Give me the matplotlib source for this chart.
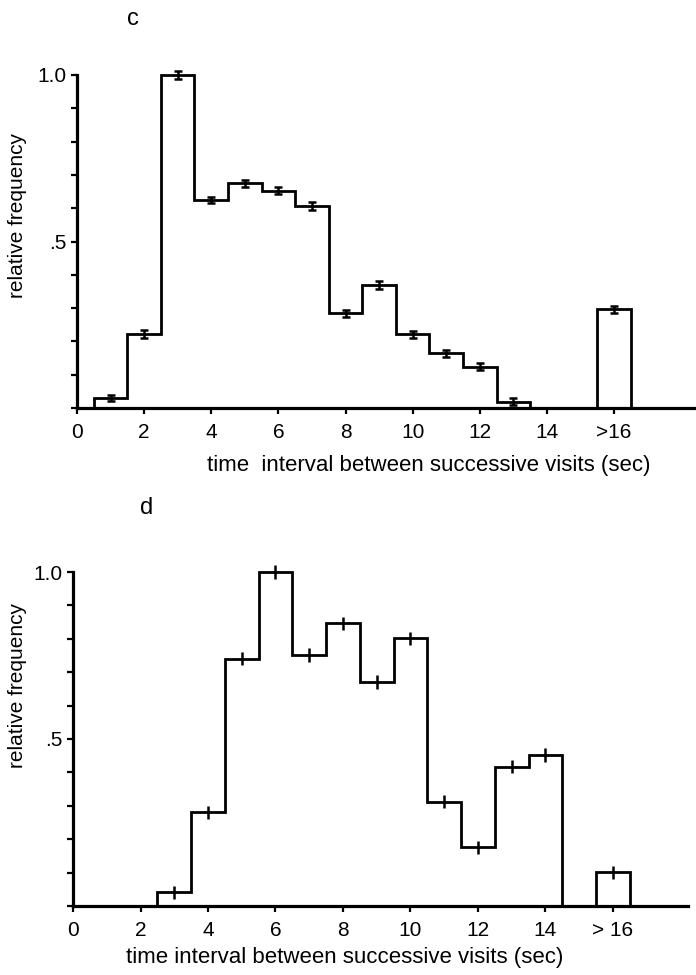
import numpy as np
import matplotlib
matplotlib.use("Agg")
import matplotlib.pyplot as plt
from matplotlib.ticker import MultipleLocator

plt.rcParams['font.family'] = ['Liberation Sans', 'DejaVu Sans']

# Panel c data
c_bins = [1, 2, 3, 4, 5, 6, 7, 8, 9, 10, 11, 12, 13]
c_vals = [0.03, 0.222, 1.0, 0.625, 0.675, 0.653, 0.607, 0.284, 0.369, 0.221, 0.164, 0.124, 0.019]
c_err = [0.01, 0.012, 0.012, 0.01, 0.01, 0.01, 0.012, 0.01, 0.012, 0.01, 0.01, 0.01, 0.01]
c_over_pos = 16
c_over_val = 0.296
c_over_err = 0.01

# Panel d data
d_bins = [3, 4, 5, 6, 7, 8, 9, 10, 11, 12, 13, 14]
d_vals = [0.041, 0.28, 0.741, 1.0, 0.751, 0.846, 0.671, 0.801, 0.312, 0.176, 0.417, 0.452]
d_err = [0.02, 0.02, 0.02, 0.02, 0.02, 0.02, 0.02, 0.02, 0.02, 0.02, 0.02, 0.02]
d_over_pos = 16
d_over_val = 0.101
d_over_err = 0.02

xtick_vals = [0, 2, 4, 6, 8, 10, 12, 14, 16]
c_xticklabels = ['0', '2', '4', '6', '8', '10', '12', '14', '>16']
d_xticklabels = ['0', '2', '4', '6', '8', '10', '12', '14', '> 16']
ytick_vals = [0.5, 1.0]
ytick_labels = ['.5', '1.0']
xlabel_c = 'time  interval between successive visits (sec)'
xlabel_d = 'time interval between successive visits (sec)'
ylabel = 'relative frequency'

W, H = 696, 975
fig = plt.figure(figsize=(W / 100, H / 100), dpi=100)


def make_axes(left_px, right_px, top_px, bottom_px):
    return fig.add_axes([left_px / W, 1 - bottom_px / H,
                         (right_px - left_px) / W, (bottom_px - top_px) / H])


def style(ax, xmax, xticklabels):
    ax.set_xlim(0, xmax)
    ax.set_ylim(0, 1.0)
    for s in ['top', 'right']:
        ax.spines[s].set_visible(False)
    for s in ['left', 'bottom']:
        ax.spines[s].set_linewidth(2.3)
    ax.set_xticks(xtick_vals)
    ax.set_xticklabels(xticklabels, fontsize=15)
    ax.set_yticks(ytick_vals)
    ax.set_yticklabels(ytick_labels, fontsize=15)
    ax.yaxis.set_minor_locator(MultipleLocator(0.1))
    ax.tick_params(axis='both', which='both', direction='out', width=1.6)
    ax.tick_params(axis='both', which='major', length=4.5)
    ax.tick_params(axis='x', which='major', pad=6)
    ax.tick_params(axis='y', which='major', pad=3)
    ax.tick_params(axis='y', which='minor', length=4.5)
    ax.tick_params(axis='x', which='minor', length=0)


def draw(ax, bins, vals, errs, over_pos, over_val, over_err, cap):
    bins = np.asarray(bins, float)
    edges = np.concatenate([bins - 0.5, [bins[-1] + 0.5]])
    ax.stairs(vals, edges, baseline=0, color='black', linewidth=2.0, clip_on=False)
    ax.stairs([over_val], [over_pos - 0.5, over_pos + 0.5], baseline=0,
              color='black', linewidth=2.0, clip_on=False)
    eb = ax.errorbar(list(bins) + [over_pos], list(vals) + [over_val],
                     yerr=list(errs) + [over_err], fmt='none', ecolor='black',
                     elinewidth=1.8, capsize=cap, capthick=1.8)
    for part in list(eb.lines[1]) + list(eb.lines[2]):
        part.set_clip_on(False)


# Panel c
ax1 = make_axes(77, 695, 75, 408)
draw(ax1, c_bins, c_vals, c_err, c_over_pos, c_over_val, c_over_err, cap=3)
style(ax1, (695 - 77) / 33.57, c_xticklabels)
fig.text(429 / W, 1 - 466 / H, xlabel_c, ha='center', va='center', fontsize=16)
fig.text(18 / W, 1 - 216 / H, ylabel, rotation=90, ha='center', va='center', fontsize=15)
fig.text(133 / W, 1 - 19 / H, 'c', ha='center', va='center', fontsize=17)

# Panel d
ax2 = make_axes(73, 688, 572, 906)
draw(ax2, d_bins, d_vals, d_err, d_over_pos, d_over_val, d_over_err, cap=0)
style(ax2, (688 - 73) / 33.75, d_xticklabels)
fig.text(345 / W, 1 - 957 / H, xlabel_d, ha='center', va='center', fontsize=16)
fig.text(18 / W, 1 - 686 / H, ylabel, rotation=90, ha='center', va='center', fontsize=15)
fig.text(147 / W, 1 - 508 / H, 'd', ha='center', va='center', fontsize=17)

fig.savefig('out.png', dpi=100)
